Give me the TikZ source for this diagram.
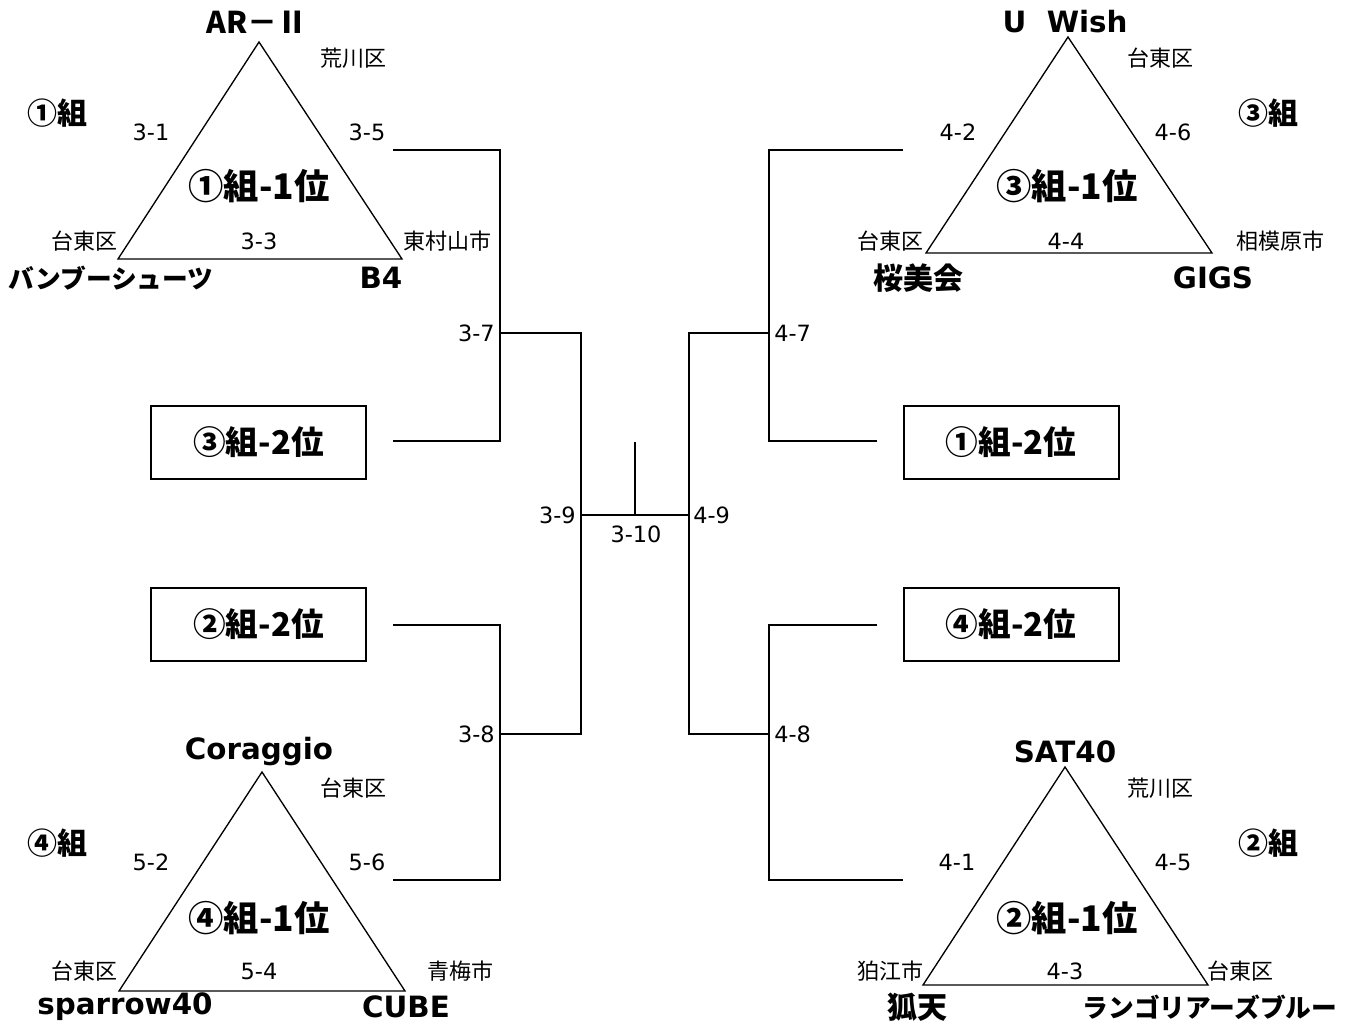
\documentclass[tikz,border=0pt]{standalone}
\usepackage{fontspec}
\setmainfont{DejaVu Sans}
\newfontfamily\jp{Noto Sans CJK JP}
\tikzset{
  px/.style={x=0.75pt,y=-0.75pt},
  team/.style={font=\bfseries\fontsize{22}{24}\selectfont, inner sep=0pt},
  teamjp/.style={font=\jp\bfseries\fontsize{22.5}{25}\selectfont, inner sep=0pt},
  teamkana/.style={font=\jp\bfseries\fontsize{19.3}{22}\selectfont, inner sep=0pt},
  grp/.style={font=\jp\bfseries\fontsize{22.5}{25}\selectfont, inner sep=0pt},
  rank/.style={font=\jp\bfseries\fontsize{26.5}{29}\selectfont, inner sep=0pt},
  city/.style={font=\jp\fontsize{16.5}{19}\selectfont, inner sep=0pt},
  num/.style={font=\fontsize{16.8}{19}\selectfont, inner sep=0pt},
  tri/.style={line width=1pt, line join=miter},
  brk/.style={line width=1.5pt},
  rankbox/.style={draw, line width=1.5pt, minimum width=161.25pt, minimum height=54.75pt, inner sep=0pt, font=\jp\bfseries\fontsize{24.5}{27}\selectfont},
}
\begin{document}
\begin{tikzpicture}[px]
\useasboundingbox (0,0) rectangle (1355,1028);

% ---------- Group 1 (top left) ----------
\coordinate (t1a) at (259,42);
\coordinate (t1b) at (118,259);
\coordinate (t1c) at (402,259);
\draw[tri] (t1a) -- (t1b) -- (t1c) -- cycle;
\node[teamjp] (n1a) at (257,22) {AR－Ⅱ};
\node[city] (c1a) at (353,58) {荒川区};
\node[grp] (g1) at (57,113) {①組};
\node[num] (m31) at (151,132) {3-1};
\node[num] (m35) at (367,132) {3-5};
\node[rank] (r1) at (259,186) {①組-1位};
\node[city] (c1b) at (84,241) {台東区};
\node[num] (m33) at (259,241) {3-3};
\node[city] (c1c) at (447,241) {東村山市};
\node[teamkana] (n1b) at (111,278) {バンブーシューツ};
\node[team] (n1c) at (381,278) {B4};

% ---------- Group 3 (top right) ----------
\coordinate (t3a) at (1068,37);
\coordinate (t3b) at (926,253);
\coordinate (t3c) at (1212,253);
\draw[tri] (t3a) -- (t3b) -- (t3c) -- cycle;
\node[team] (n3a) at (1065,22) {U\ \ Wish};
\node[city] (c3a) at (1160,58) {台東区};
\node[grp] (g3) at (1268,113) {③組};
\node[num] (m42) at (958,132) {4-2};
\node[num] (m46) at (1173,132) {4-6};
\node[rank] (r3) at (1067,186) {③組-1位};
\node[city] (c3b) at (890,241) {台東区};
\node[num] (m44) at (1066,241) {4-4};
\node[city] (c3c) at (1280,241) {相模原市};
\node[teamjp] (n3b) at (918,278) {桜美会};
\node[team] (n3c) at (1213,278) {GIGS};

% ---------- Group 4 (bottom left) ----------
\coordinate (t4a) at (262,772);
\coordinate (t4b) at (119,991);
\coordinate (t4c) at (405,991);
\draw[tri] (t4a) -- (t4b) -- (t4c) -- cycle;
\node[team] (n4a) at (259,752) {Coraggio};
\node[city] (c4a) at (353,788) {台東区};
\node[grp] (g4) at (57,843) {④組};
\node[num] (m52) at (151,862) {5-2};
\node[num] (m56) at (367,862) {5-6};
\node[rank] (r4) at (259,918) {④組-1位};
\node[city] (c4b) at (84,971) {台東区};
\node[num] (m54) at (259,971) {5-4};
\node[city] (c4c) at (460,971) {青梅市};
\node[team] (n4b) at (125,1007) {sparrow40};
\node[team] (n4c) at (406,1007) {CUBE};

% ---------- Group 2 (bottom right) ----------
\coordinate (t2a) at (1065,767);
\coordinate (t2b) at (923,985);
\coordinate (t2c) at (1208,985);
\draw[tri] (t2a) -- (t2b) -- (t2c) -- cycle;
\node[team] (n2a) at (1065,752) {SAT40};
\node[city] (c2a) at (1160,788) {荒川区};
\node[grp] (g2) at (1268,843) {②組};
\node[num] (m41) at (957,862) {4-1};
\node[num] (m45) at (1173,862) {4-5};
\node[rank] (r2) at (1067,918) {②組-1位};
\node[city] (c2b) at (890,971) {狛江市};
\node[num] (m43) at (1065,971) {4-3};
\node[city] (c2c) at (1240,971) {台東区};
\node[teamjp] (n2b) at (917,1007) {狐天};
\node[teamkana] (n2c) at (1210,1007) {ランゴリアーズブルー};

% ---------- second-place boxes ----------
\node[rankbox] (b32) at (258.5,442.5) {③組-2位};
\node[rankbox] (b22) at (258.5,624.5) {②組-2位};
\node[rankbox] (b12) at (1011,442.5) {①組-2位};
\node[rankbox] (b42) at (1011,624.5) {④組-2位};

% ---------- bracket coordinates ----------
\coordinate (L1s) at (393,150);  \coordinate (L1c) at (500,150);
\coordinate (L2s) at (393,441);  \coordinate (L2c) at (500,441);
\coordinate (L37) at (500,333);  \coordinate (L37e) at (581,333);
\coordinate (L3s) at (393,625);  \coordinate (L3c) at (500,625);
\coordinate (L4s) at (393,880);  \coordinate (L4c) at (500,880);
\coordinate (L38) at (500,734);  \coordinate (L38e) at (581,734);
\coordinate (L39) at (581,515);
\coordinate (R1s) at (903,150);  \coordinate (R1c) at (769,150);
\coordinate (R2s) at (877,441);  \coordinate (R2c) at (769,441);
\coordinate (R47) at (769,333);  \coordinate (R47e) at (689,333);
\coordinate (R3s) at (877,625);  \coordinate (R3c) at (769,625);
\coordinate (R4s) at (903,880);  \coordinate (R4c) at (769,880);
\coordinate (R48) at (769,734);  \coordinate (R48e) at (689,734);
\coordinate (R49) at (689,515);
\coordinate (Fb) at (635,515);   \coordinate (Ft) at (635,442);

\draw[brk] (L1s) -- (L1c) -- (L2c) -- (L2s);
\draw[brk] (L37) -- (L37e) -- (L38e) -- (L38);
\draw[brk] (L3s) -- (L3c) -- (L4c) -- (L4s);
\draw[brk] (R1s) -- (R1c) -- (R2c) -- (R2s);
\draw[brk] (R47) -- (R47e) -- (R48e) -- (R48);
\draw[brk] (R3s) -- (R3c) -- (R4c) -- (R4s);
\draw[brk] (L39) -- (R49);
\draw[brk] (Fb) -- (Ft);

\node[num, anchor=east] (m37) at (495,333) {3-7};
\node[num, anchor=east] (m38) at (495,734) {3-8};
\node[num, anchor=west] (m47) at (774,333) {4-7};
\node[num, anchor=west] (m48) at (774,734) {4-8};
\node[num, anchor=east] (m39) at (576,515) {3-9};
\node[num, anchor=west] (m49) at (693,515) {4-9};
\node[num] (m310) at (636,534) {3-10};
\end{tikzpicture}
\end{document}
